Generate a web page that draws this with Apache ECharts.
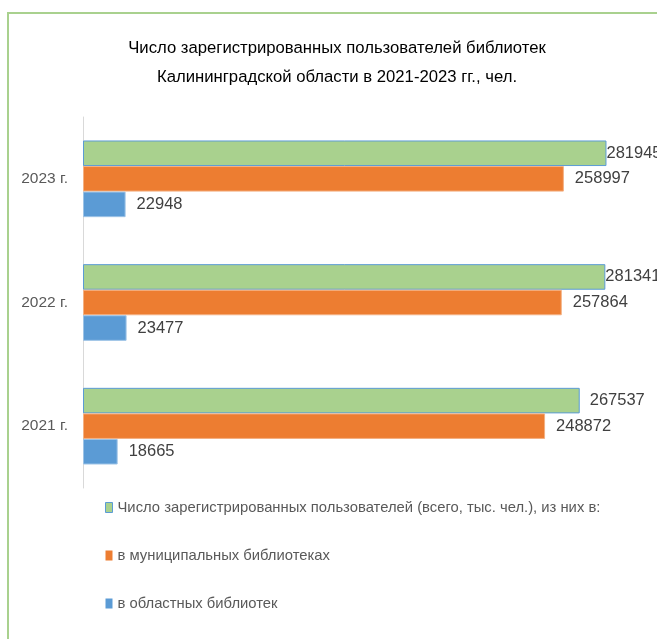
<!DOCTYPE html>
<html>
<head>
<meta charset="utf-8">
<script src="https://cdn.jsdelivr.net/npm/echarts@6/dist/echarts.min.js"></script>
<style>
    html, body { margin: 0; padding: 0; background: #fff; }
    #chart { width: 657px; height: 639px; }
</style>
</head>
<body>
<div id="chart"></div>
<script>
var years = ['2021 г.', '2022 г.', '2023 г.'];
var totalUsers = [267537, 281341, 281945];
var municipalUsers = [248872, 257864, 258997];
var regionalUsers = [18665, 23477, 22948];

var nameTotal = 'Число зарегистрированных пользователей (всего, тыс. чел.), из них в:';
var nameMunicipal = 'в муниципальных библиотеках';
var nameRegional = 'в областных библиотек';

var font = '"Liberation Sans Narrow", "Liberation Sans", Arial, sans-serif';

// подписи у длинных зелёных столбцов прижаты к краю
function totalData() {
    return totalUsers.map(function(v) {
        return {
            value: v,
            label: { distance: v > 280000 ? 0 : 10 }
        };
    });
}

function valueLabel() {
    return { show: true, position: 'right', distance: 11, fontSize: 16.5, color: '#404040', fontFamily: font };
}

var myChart = echarts.init(document.getElementById('chart'));

var option = {
    animation: false,
    textStyle: { fontFamily: font },
    graphic: [{
        type: 'rect',
        shape: { x: 8, y: 13, width: 700, height: 700 },
        style: { fill: 'none', stroke: '#A9D18E', lineWidth: 2 },
        silent: true
    }],
    title: {
        text: 'Число зарегистрированных пользователей библиотек\nКалининградской области в 2021-2023 гг., чел.',
        left: 332,
        textAlign: 'center',
        top: 29,
        textStyle: {
            fontFamily: font,
            fontSize: 16.7,
            fontWeight: 'normal',
            color: '#000',
            lineHeight: 29
        }
    },
    legend: {
        orient: 'vertical',
        left: 105,
        top: 500,
        padding: 0,
        itemGap: 33,
        itemWidth: 7,
        itemHeight: 10,
        icon: 'rect',
        itemStyle: { borderWidth: 0 },
        data: [
            { name: nameTotal, itemStyle: { borderWidth: 1, borderColor: '#5B9BD5' } },
            { name: nameMunicipal },
            { name: nameRegional }
        ],
        textStyle: { fontFamily: font, fontSize: 14.8, color: '#595959' }
    },
    grid: {
        left: 83,
        top: 117,
        width: 557,
        height: 371
    },
    xAxis: {
        type: 'value',
        min: 0,
        max: 300000,
        show: false,
        splitLine: { show: false }
    },
    yAxis: {
        type: 'category',
        data: years,
        axisLine: { lineStyle: { color: '#D9D9D9' } },
        axisTick: { show: false },
        axisLabel: { fontFamily: font, fontSize: 15.5, color: '#595959', margin: 15 }
    },
    series: [{
        name: nameTotal,
        type: 'bar',
        data: totalData(),
        barGap: 0,
        barCategoryGap: '38%',
        itemStyle: { color: '#A9D18E', borderColor: '#5B9BD5', borderWidth: 1 },
        label: valueLabel()
    }, {
        name: nameMunicipal,
        type: 'bar',
        data: municipalUsers,
        barGap: 0,
        barCategoryGap: '38%',
        itemStyle: { color: '#ED7D31', borderColor: '#F4B183', borderWidth: 1 },
        label: valueLabel()
    }, {
        name: nameRegional,
        type: 'bar',
        data: regionalUsers,
        barGap: 0,
        barCategoryGap: '38%',
        itemStyle: { color: '#5B9BD5', borderColor: '#9DC3E6', borderWidth: 1 },
        label: valueLabel()
    }]
};
myChart.setOption(option);
</script>
</body>
</html>
